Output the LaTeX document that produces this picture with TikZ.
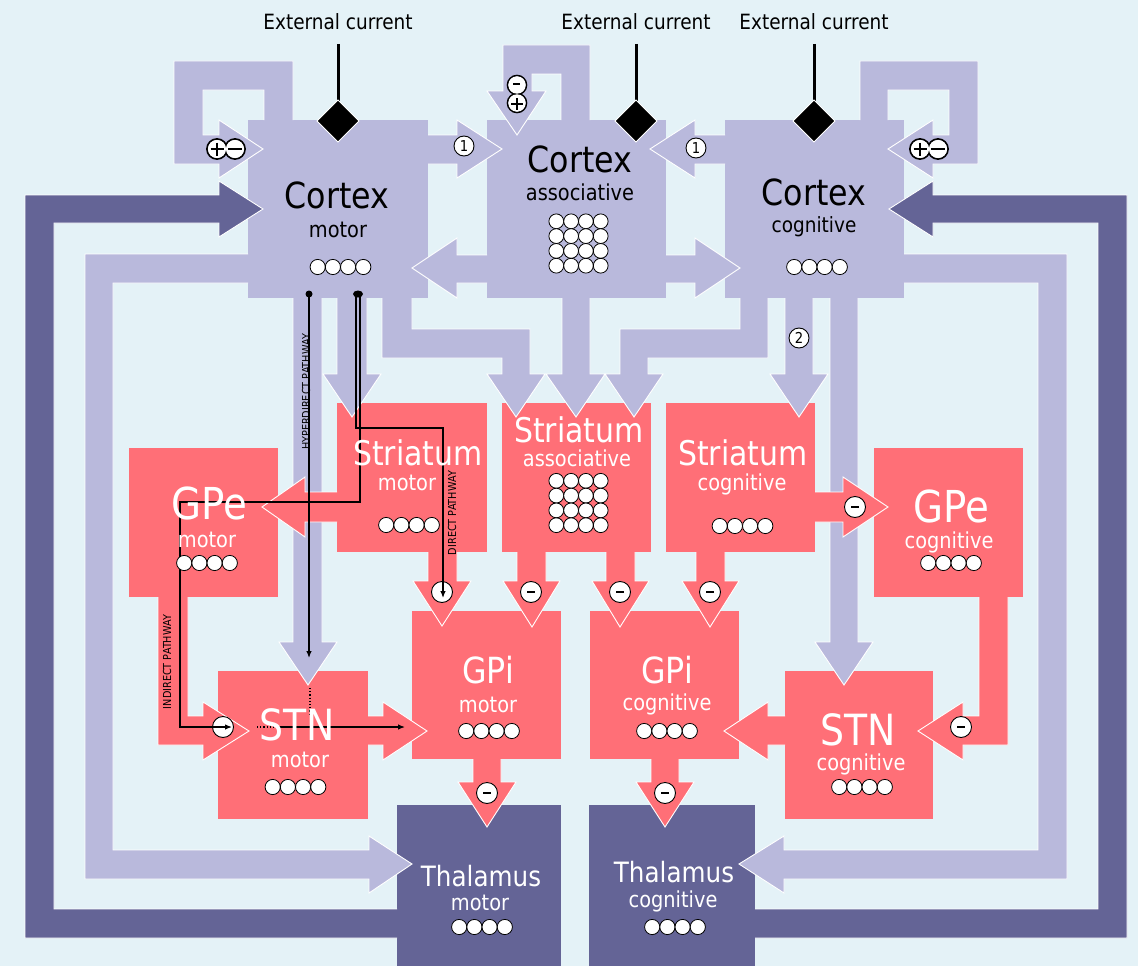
\documentclass[tikz,border=0pt]{standalone}
\usepackage{fontspec}
\newfontfamily\lab[FakeStretch=0.88]{DejaVu Sans}
\usetikzlibrary{arrows.meta}
\definecolor{bgc}{RGB}{228,242,247}
\definecolor{lav}{RGB}{185,185,220}
\definecolor{dpur}{RGB}{100,100,150}
\definecolor{rdc}{RGB}{255,111,119}
\newcommand\myfs[1]{\fontsize{#1}{#1}\selectfont}
\newcommand\blk[2]{\fill[#1] #2 -- cycle; \draw[outl] #2;}
\newcommand\cellrow[2]{\foreach \i in {0,1,2,3}{\draw[cell] ({#1+(\i-1.5)*15.2},#2) circle[radius=7.6];}}
\newcommand\cellgrid[2]{\foreach \i in {0,1,2,3}{\foreach \j in {0,1,2,3}{\draw[cell] ({#1+(\i-1.5)*14.8},{#2+(\j-1.5)*14.8}) circle[radius=7.4];}}}
\begin{document}
\begin{tikzpicture}[x=1pt,y=-1pt,
  outl/.style={draw=white,line width=0.9pt,line join=miter},
  cell/.style={fill=white,draw=black,line width=0.8pt},
  box/.style={rectangle,inner sep=0pt,draw=none},
  lbox/.style={box,fill=lav},
  rbox/.style={box,fill=rdc},
  dbox/.style={box,fill=dpur},
  big/.style={inner sep=0pt,anchor=base,font={\lab\myfs{#1}}},
  pline/.style={black,line width=1.2pt},
  arr/.style={-{Latex[length=7pt,width=5.5pt]}},
  badge/.style={circle,fill=white,draw=black,line width=0.9pt,minimum size=21pt,inner sep=0pt},
  plab/.style={inner sep=0pt,rotate=90,font={\lab\myfs{11}}}
]
\useasboundingbox (0,0) rectangle (1138,966);
\fill[bgc] (0,0) rectangle (1138,966);

% ---------- boxes ----------
\node[lbox,minimum width=180,minimum height=178] (ctxM) at (338,209) {};
\node[lbox,minimum width=179,minimum height=178] (ctxA) at (576.5,209) {};
\node[lbox,minimum width=179,minimum height=178] (ctxC) at (814.5,209) {};
\node[rbox,minimum width=150,minimum height=149] (strM) at (412,477.5) {};
\node[rbox,minimum width=149,minimum height=149] (strA) at (576.5,477.5) {};
\node[rbox,minimum width=149,minimum height=149] (strC) at (740.5,477.5) {};
\node[rbox,minimum width=149,minimum height=149] (gpeM) at (203.5,522.5) {};
\node[rbox,minimum width=149,minimum height=149] (gpeC) at (948.5,522.5) {};
\node[rbox,minimum width=150,minimum height=148] (stnM) at (293,745) {};
\node[rbox,minimum width=148,minimum height=148] (stnC) at (859,745) {};
\node[rbox,minimum width=149,minimum height=148] (gpiM) at (486.5,685) {};
\node[rbox,minimum width=149,minimum height=148] (gpiC) at (664.5,685) {};
\node[dbox,minimum width=164,minimum height=162] (thM) at (479,886) {};
\node[dbox,minimum width=166,minimum height=162] (thC) at (672,886) {};

% ---------- lavender arrows ----------
\blk{lav}{(264,120) -- (264,90) -- (203,90) -- (203,135) -- (219,135) -- (219,120) -- (263,149) -- (219,178) -- (219,164) -- (174,164) -- (174,61) -- (293,61) -- (293,120)}
\blk{lav}{(888,120) -- (888,90) -- (949,90) -- (949,135) -- (933,135) -- (933,120) -- (888,149) -- (933,178) -- (933,164) -- (978,164) -- (978,61) -- (860,61) -- (860,120)}
\blk{lav}{(590,120) -- (590,45) -- (503,45) -- (503,91) -- (487,91) -- (517,135) -- (546,91) -- (532,91) -- (532,74) -- (561,74) -- (561,120)}
\blk{lav}{(428,135) -- (457,135) -- (457,120) -- (502,149) -- (457,178) -- (457,164) -- (428,164)}
\blk{lav}{(725,135) -- (695,135) -- (695,120) -- (650,149) -- (695,178) -- (695,164) -- (725,164)}
\blk{lav}{(487,255) -- (457,255) -- (457,238) -- (412,268) -- (457,298) -- (457,283) -- (487,283)}
\blk{lav}{(666,255) -- (695,255) -- (695,238) -- (740,268) -- (695,298) -- (695,283) -- (666,283)}
\blk{lav}{(248,254) -- (85,254) -- (85,879) -- (369,879) -- (369,893) -- (412,864) -- (369,836) -- (369,850) -- (113,850) -- (113,283) -- (248,283)}
\blk{lav}{(904,254) -- (1067,254) -- (1067,879) -- (784,879) -- (784,893) -- (739,864) -- (784,836) -- (784,850) -- (1038,850) -- (1038,283) -- (904,283)}
\blk{lav}{(293,298) -- (293,642) -- (279,642) -- (308,685) -- (337,642) -- (322,642) -- (322,298)}
\blk{lav}{(337,298) -- (337,374) -- (323,374) -- (352,417) -- (381,374) -- (367,374) -- (367,298)}
\blk{lav}{(382,298) -- (382,358) -- (502,358) -- (502,374) -- (487,374) -- (516,417) -- (545,374) -- (530,374) -- (530,329) -- (412,329) -- (412,298)}
\blk{lav}{(562,298) -- (562,374) -- (546,374) -- (576,417) -- (605,374) -- (590,374) -- (590,298)}
\blk{lav}{(740,298) -- (740,329) -- (620,329) -- (620,374) -- (605,374) -- (634,417) -- (663,374) -- (648,374) -- (648,358) -- (768,358) -- (768,298)}
\blk{lav}{(785,298) -- (785,374) -- (770,374) -- (799,417) -- (828,374) -- (813,374) -- (813,298)}
\blk{lav}{(830,298) -- (830,642) -- (815,642) -- (844,685) -- (873,642) -- (858,642) -- (858,298)}

% ---------- dark loops ----------
\blk{dpur}{(397,938) -- (25,938) -- (25,195) -- (219,195) -- (219,181) -- (263,209) -- (219,237) -- (219,223) -- (54,223) -- (54,909) -- (397,909)}
\blk{dpur}{(755,938) -- (1127,938) -- (1127,195) -- (933,195) -- (933,181) -- (889,209) -- (933,237) -- (933,223) -- (1098,223) -- (1098,909) -- (755,909)}

% ---------- red arrows ----------
\blk{rdc}{(428,552) -- (428,581) -- (413,581) -- (442,626) -- (471,581) -- (457,581) -- (457,552)}
\blk{rdc}{(517,552) -- (517,581) -- (503,581) -- (532,627) -- (560,581) -- (546,581) -- (546,552)}
\blk{rdc}{(606,552) -- (606,581) -- (592,581) -- (620,627) -- (649,581) -- (635,581) -- (635,552)}
\blk{rdc}{(696,552) -- (696,581) -- (682,581) -- (710,627) -- (739,581) -- (725,581) -- (725,552)}
\blk{rdc}{(473,759) -- (473,782) -- (458,782) -- (487,827) -- (516,782) -- (501,782) -- (501,759)}
\blk{rdc}{(651,759) -- (651,782) -- (636,782) -- (665,827) -- (694,782) -- (679,782) -- (679,759)}
\blk{rdc}{(337,492) -- (305,492) -- (305,477) -- (262,507) -- (305,537) -- (305,522) -- (337,522)}
\blk{rdc}{(815,492) -- (843,492) -- (843,477) -- (888,507) -- (843,537) -- (843,522) -- (815,522)}
\blk{rdc}{(158,597) -- (158,745) -- (203,745) -- (203,760) -- (249,731) -- (203,702) -- (203,716) -- (188,716) -- (188,597)}
\blk{rdc}{(1008,597) -- (1008,745) -- (963,745) -- (963,760) -- (918,731) -- (963,702) -- (963,716) -- (979,716) -- (979,597)}
\blk{rdc}{(368,716) -- (383,716) -- (383,702) -- (427,731) -- (383,760) -- (383,745) -- (368,745)}
\blk{rdc}{(785,716) -- (768,716) -- (768,702) -- (724,731) -- (768,760) -- (768,745) -- (785,745)}

% ---------- external current ----------
\foreach \xx/\nm in {338/eA,636/eB,814/eC}{
  \node[big=21] (\nm) at (\xx,30) {External current};
  \draw[line width=3pt] (\xx,44) -- (\xx,104);
  \filldraw[fill=black,draw=white,line width=0.8pt] (\xx,100) -- (\xx+21,121) -- (\xx,142) -- (\xx-21,121) -- cycle;
}

% ---------- badges ----------
\foreach \cx in {217,920}{
  \draw[line width=1.8pt] (\cx,149) circle[radius=10] (\cx+18,149) circle[radius=10];
  \fill[white] (\cx,149) circle[radius=9.1] (\cx+18,149) circle[radius=9.1];
  \draw[line width=1.6pt] (\cx-6.5,149) -- (\cx+6.5,149) (\cx,142.5) -- (\cx,155.5);
  \draw[line width=1.6pt] (\cx+11,149) -- (\cx+25,149);
}
\draw[line width=1.6pt] (517,85) circle[radius=9.5] (517,103) circle[radius=9.5];
\fill[white] (517,85) circle[radius=8.7] (517,103) circle[radius=8.7];
\draw[line width=1.5pt] (513,84) -- (520,84);
\draw[line width=1.5pt] (511,104) -- (523,104) (517,98) -- (517,110);

\node[badge,minimum size=20pt] (n1a) at (464,146) {\lab\myfs{15}1};
\node[badge,minimum size=20pt] (n1b) at (696,148) {\lab\myfs{15}1};
\node[badge,minimum size=20pt] (n2) at (799,338) {\lab\myfs{15}2};
\foreach \bx/\by/\nm in {855/507/m1,961/727/m2,531/592/m3,620/592/m4,710/592/m5,487/793/m6,665/793/m7}{
  \node[badge] (\nm) at (\bx,\by) {\rule{8pt}{2.2pt}};
}
\node[badge] (pd) at (442,592) {};
\node[badge] (pi) at (223,727) {};

% ---------- pathway lines ----------
\draw[pline,arr] (309,294) -- (309,658);
\fill (309,294) circle[radius=3.5];
\draw[pline,dotted] (310,688) -- (310,714);
\draw[pline,arr] (356,294) -- (356,428) -- (443,428) -- (443,598);
\draw[pline,arr] (360,294) -- (360,502) -- (180,502) -- (180,727) -- (232,727);
\fill (358,294) ellipse[x radius=5,y radius=3.5];
\draw[pline,dotted] (257,727) -- (276,727);
\draw[pline,arr] (276,727) -- (405,727);
\node[plab] (lhyp) at (306,392) {HYPERDIRECT PATHWAY};
\node[plab] (ldir) at (452,513) {DIRECT PATHWAY};
\node[plab] (lind) at (167,662) {INDIRECT PATHWAY};

% ---------- neuron cells ----------
\cellrow{340.5}{267}
\cellgrid{578.5}{243.5}
\cellrow{817}{267}
\cellrow{409}{525}
\cellgrid{578.5}{503}
\cellrow{742.5}{526}
\cellrow{207}{563}
\cellrow{951}{563}
\cellrow{295.5}{787}
\cellrow{862}{787}
\cellrow{489}{731}
\cellrow{667}{731}
\cellrow{482}{927}
\cellrow{675}{927}

% ---------- labels ----------
\node[big=36] (tcm) at (337,208) {Cortex};
\node[big=22] (scm) at (338,237) {motor};
\node[big=36] (tca) at (580,172) {Cortex};
\node[big=22] (sca) at (580,200) {associative};
\node[big=36] (tcc) at (814,205) {Cortex};
\node[big=21] (scc) at (814,232) {cognitive};
\begin{scope}[text=white]
\node[big=34] (tsm) at (418,465) {Striatum};
\node[big=22] (ssm) at (407,490) {motor};
\node[big=34] (tsa) at (579,442) {Striatum};
\node[big=22] (ssa) at (577,466) {associative};
\node[big=34] (tsc) at (743,465) {Striatum};
\node[big=22] (ssc) at (742,490) {cognitive};
\node[big=44] (tgm) at (209,519) {GPe};
\node[big=22] (sgm) at (207,547) {motor};
\node[big=44] (tgc) at (951,522) {GPe};
\node[big=22] (sgc) at (949,548) {cognitive};
\node[big=43] (ttm) at (297,740) {STN};
\node[big=22] (stm) at (300,767) {motor};
\node[big=43] (ttc) at (858,745) {STN};
\node[big=22] (stc) at (861,770) {cognitive};
\node[big=36] (tim) at (488,683) {GPi};
\node[big=22] (sim) at (488,712) {motor};
\node[big=36] (tic) at (667,683) {GPi};
\node[big=22] (sic) at (667,710) {cognitive};
\node[big=28] (thm) at (481,886) {Thalamus};
\node[big=22] (shm) at (480,910) {motor};
\node[big=28] (thc) at (674,882) {Thalamus};
\node[big=22] (shc) at (673,907) {cognitive};
\end{scope}
\end{tikzpicture}
\end{document}
